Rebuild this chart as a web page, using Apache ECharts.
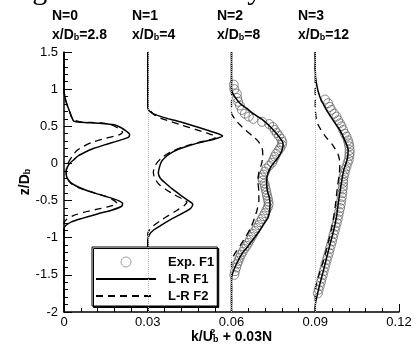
<!DOCTYPE html>
<html><head><meta charset="utf-8">
<script src="https://cdn.jsdelivr.net/npm/echarts@6/dist/echarts.min.js"></script>
<style>html,body{margin:0;padding:0;background:#fff}#c{width:416px;height:347px}</style>
</head><body><div id="c"></div>
<script>
// ---- Data: [k/U_b^2, z/D_b] pairs (k without the 0.03N offset) ----
const profileN = [0, 1, 2, 3];
const profileTitles = ['x/D_b=2.8', 'x/D_b=4', 'x/D_b=8', 'x/D_b=12'];
const xTicks = [0, 0.03, 0.06, 0.09, 0.12];
const yTicks = [-2, -1.5, -1, -0.5, 0, 0.5, 1, 1.5];

const n0F1 = [[0,1.5],[0,1.0],[0.0003,0.9],[0.001,0.8],[0.002,0.7],[0.0028,0.62],[0.0035,0.57],[0.006,0.555],[0.013,0.54],[0.018,0.52],[0.0205,0.48],[0.0225,0.43],[0.0235,0.39],[0.023,0.35],[0.019,0.3],[0.0145,0.25],[0.0105,0.2],[0.0075,0.15],[0.005,0.1],[0.0035,0.05],[0.002,0],[0.0012,-0.05],[0.0008,-0.1],[0.0008,-0.15],[0.0012,-0.2],[0.0022,-0.25],[0.0042,-0.3],[0.0072,-0.35],[0.011,-0.4],[0.0155,-0.45],[0.0195,-0.5],[0.021,-0.54],[0.0205,-0.58],[0.017,-0.63],[0.012,-0.68],[0.0065,-0.74],[0.0025,-0.79],[0.0005,-0.84],[0,-0.88],[0,-2]];
const n0F2 = [[0,1.5],[0,1.0],[0.0003,0.9],[0.001,0.8],[0.002,0.7],[0.003,0.6],[0.006,0.56],[0.013,0.545],[0.017,0.52],[0.0195,0.47],[0.021,0.42],[0.0195,0.38],[0.015,0.34],[0.0105,0.29],[0.007,0.23],[0.0045,0.17],[0.003,0.1],[0.0018,0.03],[0.001,-0.05],[0.0008,-0.12],[0.0012,-0.2],[0.0025,-0.27],[0.0055,-0.33],[0.0095,-0.38],[0.0145,-0.44],[0.018,-0.5],[0.019,-0.54],[0.016,-0.58],[0.0115,-0.62],[0.007,-0.66],[0.0035,-0.7],[0.001,-0.75],[0,-0.8],[0,-2]];
const n1F1 = [[0,1.5],[0,0.75],[0.0008,0.7],[0.0025,0.66],[0.0056,0.62],[0.0095,0.58],[0.0139,0.535],[0.0178,0.49],[0.0211,0.45],[0.0245,0.41],[0.0268,0.37],[0.024,0.33],[0.0175,0.27],[0.0125,0.21],[0.0092,0.16],[0.0068,0.1],[0.005,0.03],[0.0042,-0.05],[0.0038,-0.13],[0.0045,-0.2],[0.0068,-0.28],[0.009,-0.35],[0.0115,-0.42],[0.0145,-0.5],[0.0161,-0.55],[0.0155,-0.6],[0.0135,-0.65],[0.0105,-0.71],[0.0075,-0.77],[0.0045,-0.84],[0.002,-0.9],[0.0006,-0.96],[0,-1.03],[0,-2]];
const n1F2 = [[0,1.5],[0,0.78],[0.0008,0.72],[0.0022,0.66],[0.0045,0.61],[0.0085,0.56],[0.0125,0.51],[0.017,0.46],[0.021,0.41],[0.0245,0.36],[0.0235,0.33],[0.018,0.28],[0.0125,0.22],[0.008,0.15],[0.0048,0.07],[0.0028,-0.02],[0.002,-0.12],[0.0025,-0.2],[0.004,-0.28],[0.0065,-0.35],[0.0095,-0.42],[0.0125,-0.48],[0.014,-0.52],[0.013,-0.57],[0.0105,-0.63],[0.0075,-0.7],[0.0045,-0.77],[0.002,-0.84],[0.0005,-0.9],[0,-0.95],[0,-2]];
const n2F1 = [[0,1.5],[0,1.0],[0.0008,0.92],[0.003,0.81],[0.0055,0.74],[0.0078,0.67],[0.0114,0.58],[0.015,0.45],[0.018,0.31],[0.0185,0.25],[0.0178,0.15],[0.0165,0.07],[0.0142,-0.04],[0.013,-0.14],[0.0126,-0.25],[0.0128,-0.36],[0.0136,-0.47],[0.0138,-0.56],[0.0132,-0.72],[0.0115,-0.82],[0.0098,-0.92],[0.0078,-1.02],[0.0058,-1.12],[0.004,-1.2],[0.0025,-1.3],[0.0013,-1.39],[0.0004,-1.48],[0,-1.55],[0,-2]];
const n2F2 = [[0,1.5],[0,0.68],[0.0012,0.6],[0.003,0.52],[0.005,0.45],[0.0075,0.37],[0.0095,0.3],[0.011,0.2],[0.0112,0.1],[0.0108,0],[0.0098,-0.12],[0.0095,-0.25],[0.0098,-0.38],[0.0098,-0.5],[0.0092,-0.62],[0.0082,-0.74],[0.007,-0.86],[0.0052,-0.98],[0.0032,-1.1],[0.0014,-1.2],[0.0003,-1.28],[0,-1.35],[0,-2]];
const n2Exp = [[0.0008,1.06],[0.001,1.0],[0.0019,0.94],[0.002,0.88],[0.0024,0.83],[0.003,0.78],[0.0037,0.72],[0.0048,0.67],[0.0062,0.63],[0.0078,0.6],[0.011,0.56],[0.0135,0.53],[0.0148,0.49],[0.0155,0.45],[0.0162,0.41],[0.017,0.37],[0.0178,0.33],[0.0182,0.29],[0.018,0.25],[0.0175,0.21],[0.0168,0.17],[0.016,0.13],[0.0155,0.09],[0.015,0.05],[0.0145,0.01],[0.0135,-0.03],[0.0125,-0.07],[0.012,-0.11],[0.0115,-0.15],[0.011,-0.19],[0.0112,-0.23],[0.0118,-0.27],[0.012,-0.31],[0.0123,-0.35],[0.0125,-0.39],[0.0127,-0.43],[0.013,-0.47],[0.0132,-0.51],[0.0133,-0.55],[0.013,-0.59],[0.0125,-0.63],[0.012,-0.67],[0.0114,-0.71],[0.0108,-0.75],[0.0102,-0.79],[0.0097,-0.83],[0.009,-0.87],[0.0084,-0.91],[0.0078,-0.95],[0.0072,-0.99],[0.0066,-1.03],[0.006,-1.07],[0.0054,-1.11],[0.0046,-1.15],[0.004,-1.19],[0.0034,-1.23],[0.0029,-1.27],[0.0025,-1.31],[0.0021,-1.35],[0.0017,-1.4],[0.0013,-1.45],[0.001,-1.5]];
const n3F1 = [[0,1.5],[0,1.25],[0.0004,1.08],[0.0016,0.9],[0.004,0.72],[0.0064,0.58],[0.0088,0.45],[0.0106,0.31],[0.0118,0.18],[0.0114,0.05],[0.0102,-0.09],[0.0094,-0.25],[0.0088,-0.4],[0.0082,-0.55],[0.0076,-0.72],[0.0066,-0.9],[0.0052,-1.1],[0.004,-1.28],[0.0028,-1.46],[0.0016,-1.63],[0.0008,-1.76],[0.0002,-1.86],[0,-1.92],[0,-2]];
const n3F2 = [[0,1.5],[0,0.75],[0.0004,0.6],[0.0013,0.5],[0.0035,0.37],[0.0062,0.25],[0.0082,0.12],[0.0088,0],[0.0086,-0.15],[0.008,-0.3],[0.0074,-0.5],[0.0067,-0.7],[0.0057,-0.9],[0.0044,-1.1],[0.003,-1.3],[0.0015,-1.48],[0.0004,-1.62],[0,-1.72],[0,-2]];
const n3Exp = [[0.0035,0.86],[0.0046,0.81],[0.0052,0.76],[0.0058,0.72],[0.0068,0.67],[0.0076,0.63],[0.0082,0.58],[0.0088,0.54],[0.0094,0.5],[0.01,0.45],[0.0106,0.4],[0.0112,0.36],[0.0117,0.31],[0.012,0.27],[0.0122,0.23],[0.0123,0.18],[0.0123,0.14],[0.0122,0.1],[0.012,0.05],[0.0116,0.01],[0.0112,-0.04],[0.0108,-0.08],[0.0105,-0.13],[0.0102,-0.17],[0.01,-0.22],[0.01,-0.26],[0.0099,-0.31],[0.0098,-0.35],[0.0097,-0.4],[0.0095,-0.45],[0.0093,-0.5],[0.0091,-0.55],[0.0089,-0.6],[0.0086,-0.65],[0.0083,-0.7],[0.008,-0.75],[0.0077,-0.8],[0.0073,-0.85],[0.007,-0.9],[0.0066,-0.95],[0.0063,-1.0],[0.006,-1.05],[0.0056,-1.1],[0.0052,-1.15],[0.0049,-1.2],[0.0045,-1.25],[0.0041,-1.3],[0.0037,-1.35],[0.0034,-1.4],[0.003,-1.45],[0.0027,-1.5],[0.0023,-1.55],[0.002,-1.6],[0.0016,-1.65],[0.0012,-1.7],[0.0009,-1.75]];

const f1Profiles = [n0F1, n1F1, n2F1, n3F1];
const f2Profiles = [n0F2, n1F2, n2F2, n3F2];
const expProfiles = [null, null, n2Exp, n3Exp];
const OFFSET = 0.03;

const shift = (arr, n) => arr.map(p => [p[0] + OFFSET * n, p[1]]);

const FONT = '"Liberation Sans", Arial, Helvetica, sans-serif';
const series = [];
profileN.forEach((n, i) => {
  if (expProfiles[i]) series.push({
    name: 'Exp. F1', type: 'scatter', data: shift(expProfiles[i], n),
    symbol: 'circle', symbolSize: 9, z: 1,
    itemStyle: { color: 'rgba(255,255,255,0)', borderColor: '#5a5a5a', borderWidth: 0.9 }
  });
  series.push({
    name: 'L-R F1', type: 'line', data: shift(f1Profiles[i], n),
    showSymbol: false, symbol: 'none', smooth: 0.25, z: 3,
    itemStyle: { color: '#000' },
    lineStyle: { color: '#000', width: 1.5 }
  });
  series.push({
    name: 'L-R F2', type: 'line', data: shift(f2Profiles[i], n),
    showSymbol: false, symbol: 'none', smooth: 0.25, z: 3,
    itemStyle: { color: '#000' },
    lineStyle: { color: '#000', width: 1.3, type: [7, 5] }
  });
});
// faint reference lines at the profile baselines
series[0].markLine = {
  silent: true, symbol: 'none', label: { show: false },
  lineStyle: { color: '#bbb', type: 'dotted', width: 1 },
  data: [{ xAxis: 0.03 }, { xAxis: 0.06 }, { xAxis: 0.09 }]
};

const titleGraphics = [];
const titleX = [52, 132, 217, 298];
profileN.forEach((n, i) => {
  const parts = profileTitles[i].split('_b');
  titleGraphics.push({
    type: 'text', left: titleX[i], top: 9,
    style: { text: 'N=' + n, font: 'bold 14px ' + FONT, fill: '#000' }
  });
  titleGraphics.push({
    type: 'text', left: titleX[i], top: 28,
    style: {
      text: '{a|' + parts[0] + '}{s|b}{a|' + parts[1] + '}',
      rich: {
        a: { font: 'bold 14px ' + FONT, fill: '#000', lineHeight: 16, verticalAlign: 'bottom' },
        s: { font: 'bold 9px ' + FONT, fill: '#000', lineHeight: 16, verticalAlign: 'bottom' }
      }
    }
  });
});
titleGraphics.push({
  type: 'text', left: -1, top: -24,
  style: { text: 'Flight stream velocity.', font: '30px "Liberation Serif", "Times New Roman", serif', fill: '#000' }
});

const chart = echarts.init(document.getElementById('c'), null, { renderer: 'canvas' });
chart.setOption({
  animation: false,
  backgroundColor: '#fff',
  grid: { left: 64, right: 17, top: 52, bottom: 35, containLabel: false, outerBoundsMode: 'none' },
  legend: {
    orient: 'vertical', left: 92, top: 247,
    data: [
      { name: 'Exp. F1', itemStyle: { color: 'rgba(255,255,255,0)', borderColor: '#888', borderWidth: 1 } },
      { name: 'L-R F1', itemStyle: { opacity: 0 } },
      { name: 'L-R F2', itemStyle: { opacity: 0 } }
    ],
    itemWidth: 60, itemHeight: 10, itemGap: 3,
    padding: [8, 3, 3, 3],
    backgroundColor: '#fff', borderColor: '#000', borderWidth: 1,
    shadowColor: '#000', shadowOffsetX: 1.5, shadowOffsetY: 1.5, shadowBlur: 0,
    textStyle: { fontFamily: FONT, fontWeight: 'bold', fontSize: 13, color: '#000', lineHeight: 14, padding: [0, 0, 0, 7] }
  },
  xAxis: {
    type: 'value', min: xTicks[0], max: xTicks[xTicks.length - 1], interval: 0.03,
    axisLine: { onZero: false, lineStyle: { color: '#000', width: 1.5 } },
    axisTick: { inside: true, length: 8, lineStyle: { color: '#000', width: 1 } },
    minorTick: { show: true, splitNumber: 5, length: 4, lineStyle: { color: '#000', width: 1 } },
    splitLine: { show: false },
    axisLabel: { color: '#000', fontFamily: FONT, fontSize: 13, margin: 4,
      formatter: v => (Math.round(v * 100) / 100).toString() },
    name: '{a|k/U}{p|2}{s|b}{a| + 0.03N}', nameLocation: 'middle', nameGap: 16, nameMoveOverlap: false,
    nameTextStyle: {
      rich: {
        a: { fontFamily: FONT, fontWeight: 'bold', fontSize: 14, color: '#000', lineHeight: 16, verticalAlign: 'bottom' },
        p: { fontFamily: FONT, fontWeight: 'bold', fontSize: 9, color: '#000', lineHeight: 16, verticalAlign: 'top', width: 0 },
        s: { fontFamily: FONT, fontWeight: 'bold', fontSize: 9, color: '#000', lineHeight: 16, verticalAlign: 'bottom', width: 6 }
      }
    }
  },
  yAxis: {
    type: 'value', min: yTicks[0], max: yTicks[yTicks.length - 1], interval: 0.5,
    axisLine: { onZero: false, lineStyle: { color: '#000', width: 1.5 } },
    axisTick: { inside: true, length: 8, lineStyle: { color: '#000', width: 1 } },
    minorTick: { show: true, splitNumber: 5, length: 4, lineStyle: { color: '#000', width: 1 } },
    splitLine: { show: false },
    axisLabel: { color: '#000', fontFamily: FONT, fontSize: 13, margin: 6 },
    name: '{a|z/D}{s|b}', nameLocation: 'middle', nameGap: 32, nameRotate: 90, nameMoveOverlap: false,
    nameTextStyle: {
      rich: {
        a: { fontFamily: FONT, fontWeight: 'bold', fontSize: 14, color: '#000', lineHeight: 16, verticalAlign: 'bottom' },
        s: { fontFamily: FONT, fontWeight: 'bold', fontSize: 9, color: '#000', lineHeight: 16, verticalAlign: 'bottom' }
      }
    }
  },
  graphic: titleGraphics,
  series: series
});
</script></body></html>
